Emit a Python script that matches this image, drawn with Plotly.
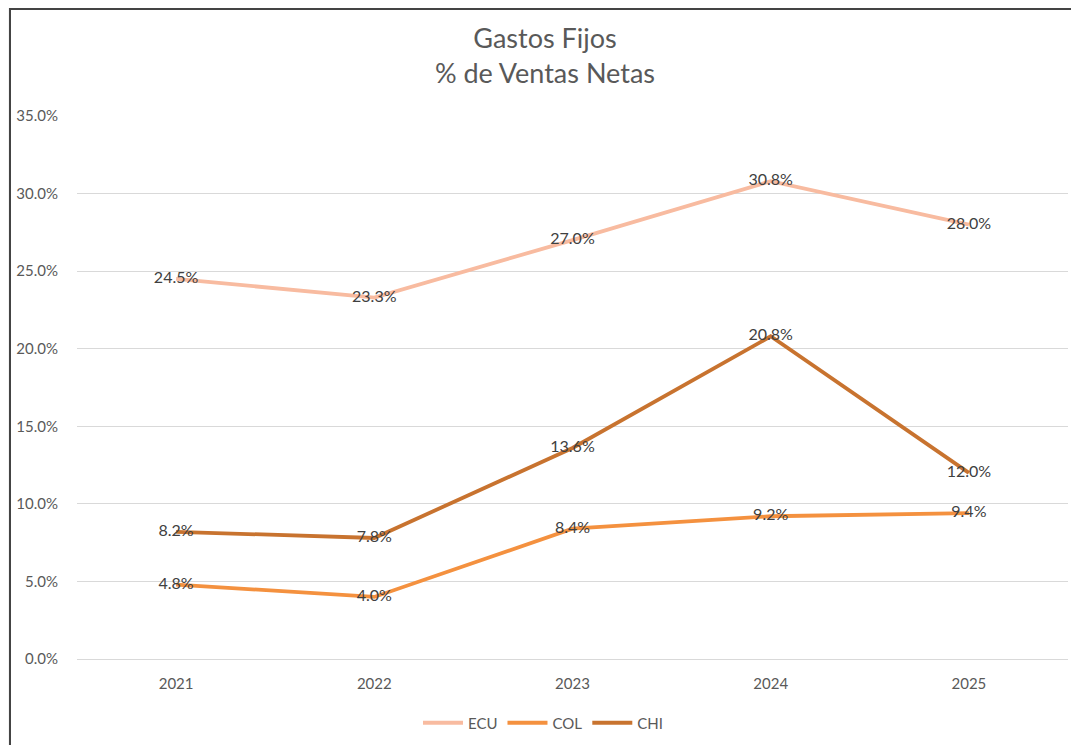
import plotly.graph_objects as go

years = ["2021", "2022", "2023", "2024", "2025"]
ecu = [24.5, 23.3, 27.0, 30.8, 28.0]
col = [4.8, 4.0, 8.4, 9.2, 9.4]
chi = [8.2, 7.8, 13.6, 20.8, 12.0]

series = [("ECU", ecu, "#F8BBA0"), ("COL", col, "#F4913F"), ("CHI", chi, "#C8732F")]

# page has an 8px body margin, so figure pixels = reference pixels - 8
W, H = 1063, 737
L, R, T, B = 69, 3, 108, 86
pw, ph = W - L - R, H - T - B
FONT = "Lato, Open Sans, sans-serif"


def px_x(p):
    return (p - L) / pw


def px_y(p):
    return (H - B - p) / ph


fig = go.Figure()
for name, vals, colour in series:
    fig.add_trace(go.Scatter(
        x=years, y=vals, name=name, mode="lines+text",
        line=dict(color=colour, width=3.8),
        texttemplate="%{y:.1f}%", textposition="middle center",
        textfont=dict(family=FONT, size=16, color="#404040"),
    ))

fig.update_layout(
    width=W, height=H,
    margin=dict(l=L, r=R, t=T, b=B),
    paper_bgcolor="#f4f4f4",
    plot_bgcolor="rgba(0,0,0,0)",
    font=dict(family=FONT, color="#595959"),
    title=dict(
        text="Gastos Fijos<br>% de Ventas Netas",
        x=537 / W, xanchor="center", xref="container",
        y=1 - 39.5 / H, yanchor="middle", yref="container",
        font=dict(size=27, color="#595959"),
    ),
    legend=dict(
        orientation="h", xref="container", yref="container",
        x=535 / W, xanchor="center", y=1 - 715 / H, yanchor="middle",
        font=dict(size=15, color="#595959"),
        bgcolor="rgba(0,0,0,0)",
        itemwidth=40,
    ),
    shapes=[dict(
        type="rect", xref="paper", yref="paper", layer="below",
        x0=px_x(2), x1=px_x(W + 10), y0=px_y(1), y1=px_y(H + 10),
        fillcolor="white", line=dict(color="#444444", width=2),
    )],
)

fig.update_xaxes(
    type="category", range=[-0.5, 4.5], showgrid=False, showline=False,
    ticks="", ticklabelstandoff=14, tickfont=dict(size=15, color="#595959"),
)
fig.update_yaxes(
    range=[0, 35], dtick=5, tickformat=".1f", ticksuffix="%",
    showgrid=True, gridcolor="#d9d9d9", gridwidth=1,
    zeroline=True, zerolinecolor="#d9d9d9", zerolinewidth=1,
    showline=False, ticks="", ticklabelstandoff=18,
    tickfont=dict(size=15, color="#595959"),
)

fig.write_html("out.html")
